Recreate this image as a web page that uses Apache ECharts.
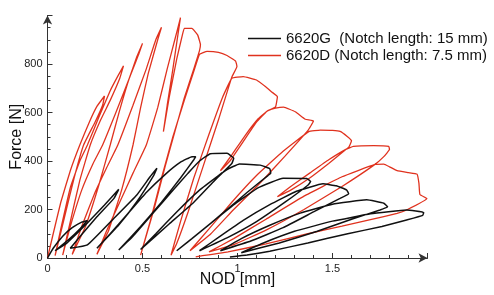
<!DOCTYPE html>
<html>
<head>
<meta charset="utf-8">
<script src="https://cdn.jsdelivr.net/npm/echarts@6/dist/echarts.min.js"></script>
<style>
html,body{margin:0;padding:0;background:#fff;}
#chart{width:494px;height:295px;}
</style>
</head>
<body>
<div id="chart"></div>
<script>
// Series names
const seriesNames = ['6620G  (Notch length: 15 mm)', '6620D (Notch length: 7.5 mm)'];

// Black series (6620G): NOD [mm] and Force [N]
const nodBlack = [
  0,0.03,0.08,0.13,0.18,0.21, 0.17,0.11,0.04,
  0.10,0.16,0.21,0.30,0.375, 0.35,0.26,0.17,0.12,
  0.21,0.35,0.47,0.54,0.576, 0.56,0.47,0.375,0.26,
  0.33,0.42,0.52,0.62,0.70,0.76,0.78,0.77, 0.70,0.60,0.49,0.375,
  0.45,0.55,0.65,0.74,0.80,0.857,0.945,0.98,0.97, 0.88,0.77,0.64,0.49,
  0.57,0.68,0.80,0.90,0.945,1.01,1.12,1.17,1.175,1.16, 1.05,0.93,0.80,0.68,
  0.76,0.87,0.99,1.11,1.24,1.364,1.385,1.37, 1.25,1.10,0.95,0.80,
  0.90,1.03,1.17,1.31,1.45,1.52,1.575,1.585,1.54, 1.40,1.24,1.07,0.91,
  1.02,1.17,1.33,1.50,1.68,1.77,1.79,1.75, 1.60,1.42,1.22,1.02,
  1.13,1.30,1.50,1.70,1.89,1.98,1.975,1.89, 1.76,1.58,1.37,1.17,1.05,0.96
];
const forceBlack = [
  0,40,90,125,148,155, 120,75,30,
  60,105,144,219,283, 246,170,88,40,
  54,164,260,335,370, 342,232,136,40,
  100,180,270,345,395,418,418,405, 330,230,130,33,
  90,180,270,350,400,430,432,411,390, 320,230,140,35,
  100,190,280,340,365,388,383,368,350,340, 270,190,105,30,
  80,150,225,290,329,328,315,300, 230,150,85,30,
  85,155,220,275,306,298,280,265,246, 190,125,70,30,
  80,135,185,222,240,226,211,198, 160,110,62,22,
  60,110,152,182,198,188,176,157, 130,100,62,28,12,4
];

// Red series (6620D): NOD [mm] and Force [N]
const nodRed = [
  0,0.03,0.07,0.12,0.17,0.22,0.26,0.30,
  0.29,0.25,0.19,0.14,0.09,0.04,
  0.07,0.12,0.17,0.21,0.27,0.33,0.37,0.40,
  0.38,0.33,0.28,0.225,0.17,0.12,0.08,
  0.12,0.18,0.24,0.29,0.36,0.43,0.47,0.50,
  0.48,0.43,0.38,0.33,0.27,0.20,0.13,
  0.18,0.25,0.31,0.37,0.45,0.52,0.57,0.60,
  0.58,0.53,0.49,0.45,0.39,0.32,0.26,
  0.31,0.38,0.45,0.52,0.58,0.63,0.67,0.70,
  0.69,0.66,0.63,0.61,
  0.64,0.68,0.71,0.72,0.76,0.79,0.805,0.80,
  0.77,0.72,0.67,0.62,0.56,0.49,
  0.54,0.60,0.66,0.72,0.77,0.80,0.84,0.90,0.945,0.99,0.997,0.97,
  0.90,0.82,0.74,0.68,0.65,
  0.70,0.77,0.85,0.92,0.97,1.03,1.10,1.15,1.18,1.21,1.20,1.155,
  1.10,1.03,0.96,0.91,
  0.97,1.04,1.11,1.16,1.20,1.243,1.304,1.357,1.40,1.37,
  1.25,1.12,0.98,0.86,0.75,
  0.85,0.97,1.10,1.24,1.375,1.436,1.50,1.54,1.576,1.60,1.585,1.567,
  1.48,1.38,1.28,1.21,
  1.28,1.38,1.48,1.57,1.61,1.716,1.796,1.80,1.77,1.72,
  1.55,1.35,1.15,0.98,0.85,
  0.98,1.15,1.35,1.55,1.72,1.77,1.80,1.84,1.90,1.945,1.955,1.96,1.997,
  1.89,1.84,1.70,1.55,1.37,1.15,0.95,0.78
];
const forceRed = [
  0,100,230,360,466,560,625,668,
  630,560,466,330,170,10,
  120,290,400,466,580,690,750,792,
  740,650,570,466,320,150,12,
  130,280,390,466,600,740,830,885,
  840,740,610,466,300,130,15,
  130,270,370,466,630,780,900,951,
  900,760,620,466,280,110,15,
  110,230,350,466,620,780,900,991,
  940,780,630,521,
  660,820,920,947,947,920,880,855,
  780,660,520,380,200,12,
  150,330,500,650,770,840,852,848,835,812,790,746,
  570,380,190,60,12,
  150,330,510,660,741,748,734,705,685,665,623,605,
  560,480,400,360,
  425,505,575,608,618,622,603,572,565,525,
  420,310,200,100,30,
  120,230,340,440,521,527,526,522,502,483,456,445,
  390,330,280,253,
  295,350,405,448,460,463,460,448,418,384,
  295,200,115,55,25,
  80,160,255,335,385,387,376,360,352,346,308,262,245,
  198,184,158,131,100,58,25,5
];

// Axis tick labels
const xTickLabels = ['0', '0.5', '1', '1.5'];
const yTickLabels = ['0', '200', '400', '600', '800'];

const zip = (xs, ys) => xs.map((x, i) => [x, ys[i]]);

const chart = echarts.init(document.getElementById('chart'), null, {renderer: 'canvas'});
const FONT = 'Liberation Sans, Arial, Helvetica, sans-serif';
const axisColor = '#333';

chart.setOption({
  animation: false,
  backgroundColor: '#fff',
  grid: {left: 47.5, right: 66.5, top: 15.5, bottom: 37, containLabel: false, outerBoundsMode: 'none'},
  legend: {
    orient: 'vertical',
    left: 243,
    top: 25,
    icon: 'rect',
    itemWidth: 33,
    itemHeight: 1.5,
    itemGap: 0,
    textStyle: {fontFamily: FONT, fontSize: 15, color: '#111', lineHeight: 17},
    data: seriesNames
  },
  xAxis: {
    type: 'value',
    min: 0, max: 2, interval: 0.5,
    name: 'NOD [mm]',
    nameLocation: 'middle',
    nameGap: 14,
    nameMoveOverlap: false,
    nameTextStyle: {fontFamily: FONT, fontSize: 16, color: '#111'},
    axisLine: {show: true, onZero: false, symbol: ['none', 'arrow'], symbolSize: [7, 9], lineStyle: {color: axisColor, width: 1}},
    axisTick: {show: true, inside: true, length: 5, lineStyle: {color: axisColor}},
    minorTick: {show: true, splitNumber: 5, length: 3, lineStyle: {color: axisColor}},
    splitLine: {show: false},
    axisLabel: {
      fontFamily: FONT, fontSize: 11, color: '#222', margin: 5,
      formatter: v => { const i = Math.round(v / 0.5); return (Math.abs(v - i * 0.5) < 1e-9 && i < xTickLabels.length) ? xTickLabels[i] : ''; }
    }
  },
  yAxis: {
    type: 'value',
    min: 0, max: 1000, interval: 200,
    name: 'Force [N]',
    nameLocation: 'middle',
    nameGap: 23,
    nameMoveOverlap: false,
    nameTextStyle: {fontFamily: FONT, fontSize: 16, color: '#111'},
    axisLine: {show: true, onZero: false, symbol: ['none', 'arrow'], symbolSize: [7, 9], lineStyle: {color: axisColor, width: 1}},
    axisTick: {show: true, inside: true, length: 5, lineStyle: {color: axisColor}},
    minorTick: {show: true, splitNumber: 4, length: 3, lineStyle: {color: axisColor}},
    splitLine: {show: false},
    axisLabel: {
      fontFamily: FONT, fontSize: 11, color: '#222', margin: 5,
      formatter: v => { const i = Math.round(v / 200); return (i < yTickLabels.length) ? yTickLabels[i] : ''; }
    }
  },
  series: [
    {
      name: seriesNames[0], type: 'line', data: zip(nodBlack, forceBlack),
      symbol: 'none', smooth: 0.1, lineStyle: {color: '#111', width: 1.5}, itemStyle: {color: '#111'}, z: 3
    },
    {
      name: seriesNames[1], type: 'line', data: zip(nodRed, forceRed),
      symbol: 'none', smooth: 0.1, lineStyle: {color: '#e0321e', width: 1.3}, itemStyle: {color: '#e0321e'}, z: 2
    }
  ]
});
</script>
</body>
</html>
